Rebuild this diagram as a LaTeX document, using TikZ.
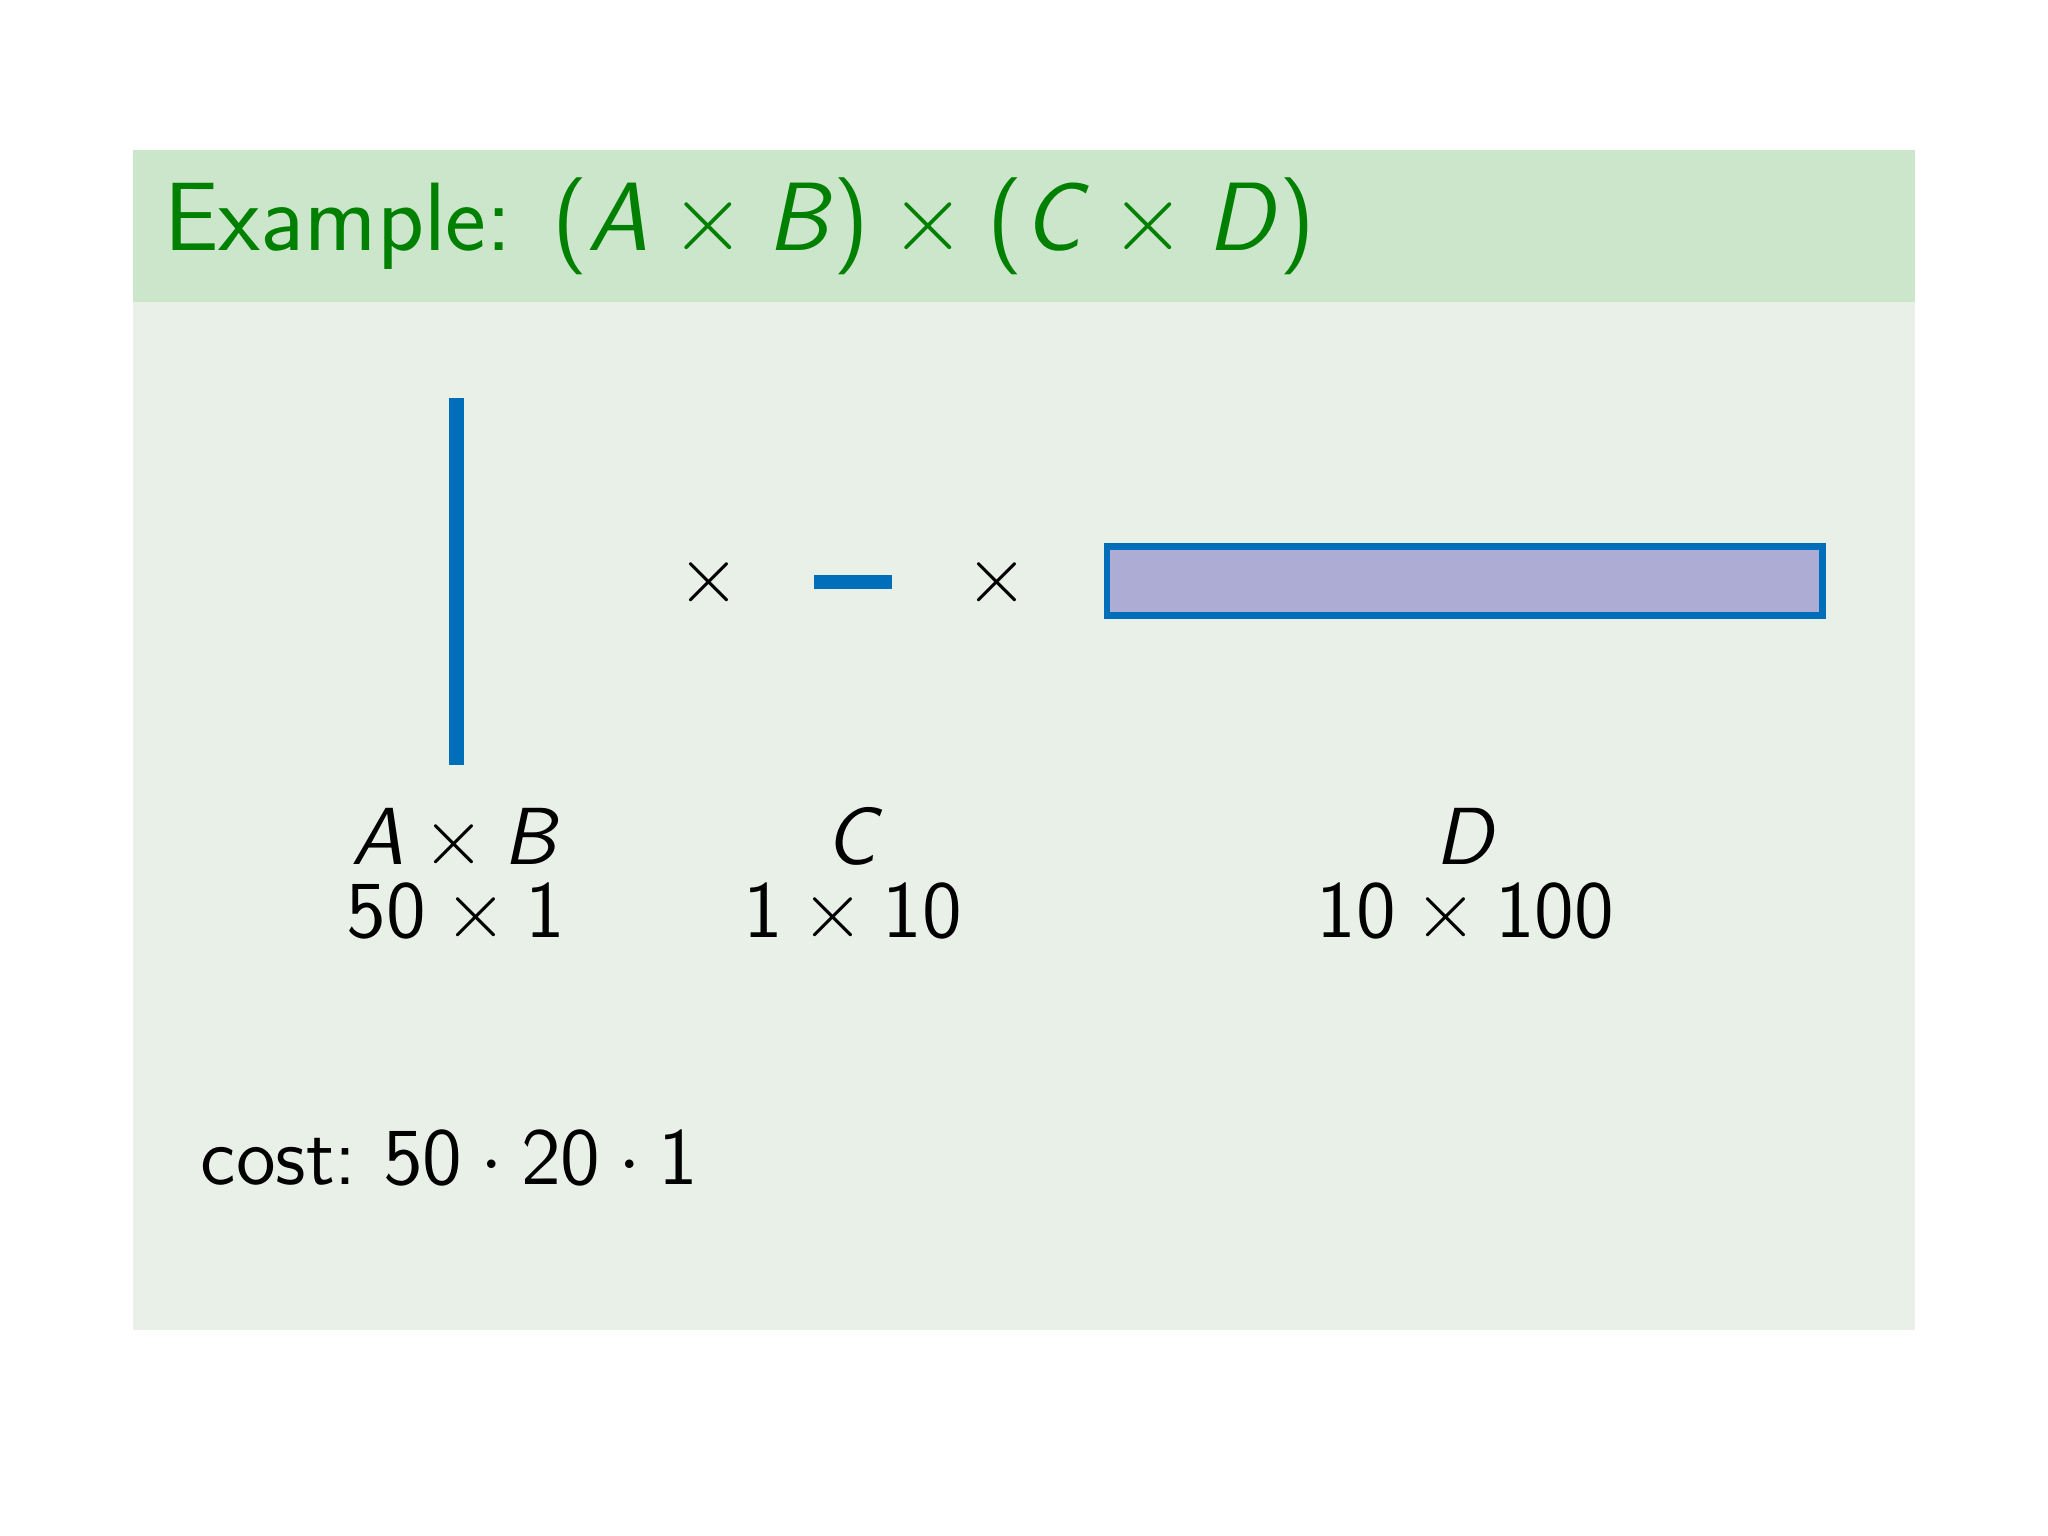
\documentclass[tikz,border=0pt]{standalone}
\definecolor{titlebg}{RGB}{204,230,204}
\definecolor{bodybg}{RGB}{232,240,232}
\definecolor{titlefg}{RGB}{0,128,0}
\definecolor{mblue}{RGB}{0,110,184}
\definecolor{mfill}{RGB}{172,172,212}
\tikzset{
  lbl/.style={inner sep=0pt, anchor=base, font=\sffamily\fontsize{14.4}{17}\selectfont},
  timesym/.style={inner sep=0pt, font=\sffamily\fontsize{14.4}{17}\selectfont},
  titletext/.style={inner sep=0pt, anchor=base west, text=titlefg, font=\sffamily\fontsize{17.28}{20}\selectfont},
  mat/.style={fill=mblue, draw=none},
}
\newcommand{\mx}{${}\times{}$}
\newcommand{\md}{${}\cdot{}$}
\newcommand{\vl}[1]{{\slshape #1\/}}
\begin{document}
\begin{tikzpicture}[x=0.0081633cm, y=-0.0081633cm]
\useasboundingbox (0,0) rectangle (1568,1176);
\fill[white] (0,0) rectangle (1568,1176);
% block
\fill[bodybg] (102,231) rectangle (1466,1018);
\fill[titlebg] (102,115) rectangle (1466,231);
\node[titletext] (title) at (125,192) {Example: (\vl{A}\mx\vl{B})\mx(\vl{C}\mx\vl{D})};
% matrices
\fill[mat] (344,305) rectangle (355,586);
\coordinate (ab) at (349.5,445.5);
\node[timesym] (x1) at (543,446) {$\times$};
\fill[mat] (623,440) rectangle (683,451);
\coordinate (c) at (653,445.5);
\node[timesym] (x2) at (763,446) {$\times$};
\draw[mblue, fill=mfill, line width=1.2pt] (847.5,418.5) rectangle (1395.5,471.5);
\coordinate (d) at (1121.5,445);
% labels
\node[lbl] (lab) at (349,662) {\vl{A}\mx\vl{B}};
\node[lbl] (dab) at (349,718) {50\mx1};
\node[lbl] (lc) at (654,662) {\vl{C}};
\node[lbl] (dc) at (653,718) {1\mx10};
\node[lbl] (ld) at (1123,662) {\vl{D}};
\node[lbl] (dd) at (1122,718) {10\mx100};
\node[lbl, anchor=base west] (cost) at (153,907) {cost:\ 50\md20\md1};
\end{tikzpicture}
\end{document}
